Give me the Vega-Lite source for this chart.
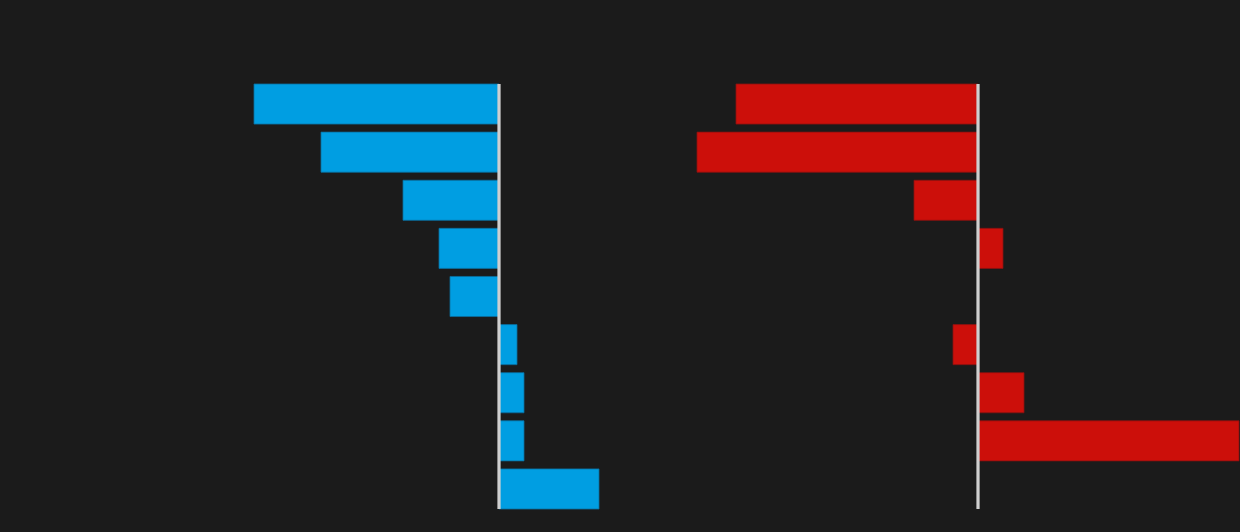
{
  "$schema": "https://vega.github.io/schema/vega-lite/v6.json",
  "background": "#1b1b1b",
  "padding": {"left": 239, "top": 82, "right": 0, "bottom": 25},
  "autosize": {"type": "pad"},
  "spacing": 59,
  "config": {"view": {"stroke": null}},
  "data": {
    "values": [
      {"row": "1", "left": -245, "right": -242},
      {"row": "2", "left": -178, "right": -281},
      {"row": "3", "left": -96, "right": -64},
      {"row": "4", "left": -60, "right": 25},
      {"row": "5", "left": -49, "right": 0},
      {"row": "6", "left": 18, "right": -25},
      {"row": "7", "left": 25, "right": 46},
      {"row": "8", "left": 25, "right": 261},
      {"row": "9", "left": 100, "right": 0}
    ]
  },
  "hconcat": [
    {
      "width": 380,
      "height": 425,
      "layer": [
        {
          "mark": {"type": "bar", "color": "#009ee2", "stroke": "#0a6fa0", "strokeWidth": 0.8},
          "encoding": {
            "y": {"field": "row", "type": "nominal", "axis": null, "scale": {"paddingInner": 0.1667, "paddingOuter": 0}},
            "x": {"field": "left", "type": "quantitative", "axis": null, "scale": {"domain": [-260, 120], "nice": false, "zero": false}}
          }
        },
        {
          "mark": {"type": "rule", "color": "#cfcfcf", "strokeWidth": 2.2},
          "encoding": {"x": {"datum": 0, "type": "quantitative"}}
        }
      ]
    },
    {
      "width": 562,
      "height": 425,
      "layer": [
        {
          "mark": {"type": "bar", "color": "#cc0f0a", "stroke": "#8a1210", "strokeWidth": 0.8},
          "encoding": {
            "y": {"field": "row", "type": "nominal", "axis": null, "scale": {"paddingInner": 0.1667, "paddingOuter": 0}},
            "x": {"field": "right", "type": "quantitative", "axis": null, "scale": {"domain": [-300, 262], "nice": false, "zero": false}}
          }
        },
        {
          "mark": {"type": "rule", "color": "#cfcfcf", "strokeWidth": 2.2},
          "encoding": {"x": {"datum": 0, "type": "quantitative"}}
        }
      ]
    }
  ]
}
